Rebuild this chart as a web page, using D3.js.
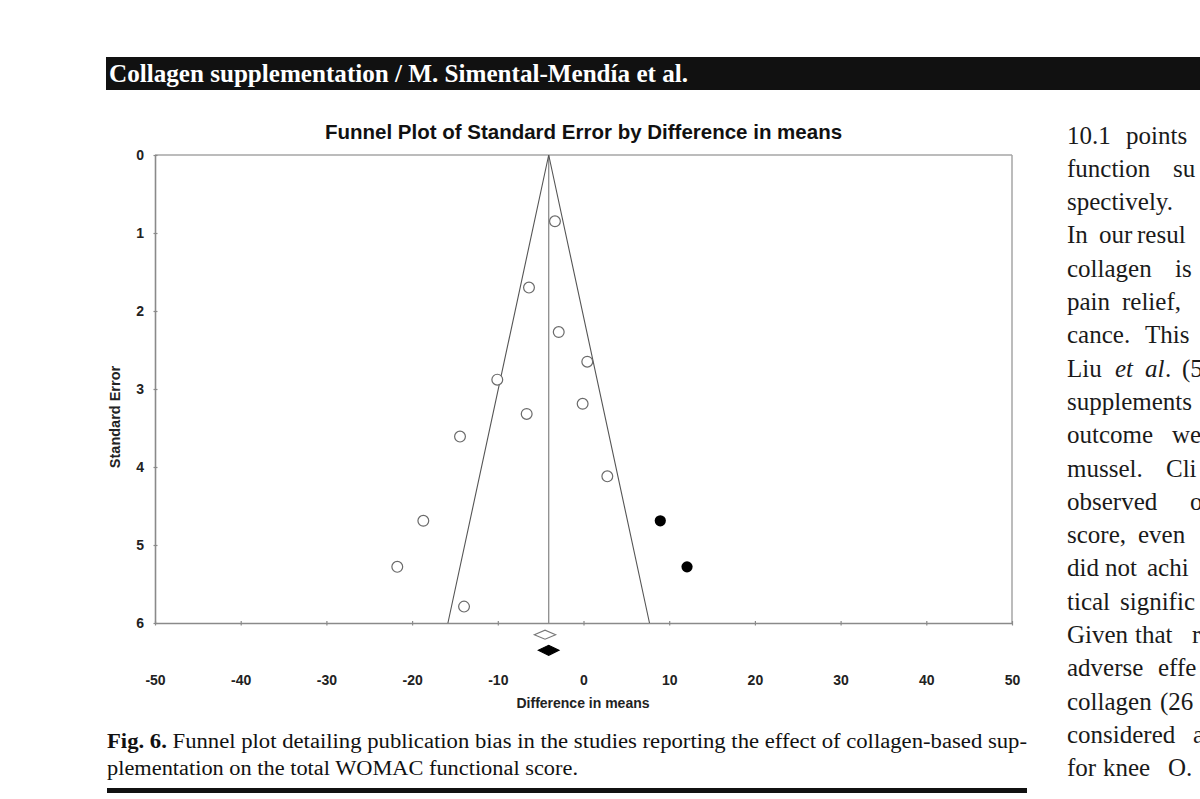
<!DOCTYPE html>
<html><head><meta charset="utf-8">
<script src="https://cdn.jsdelivr.net/npm/d3@7"></script>
<style>body{margin:0;background:#fff;overflow:hidden}svg{display:block}</style>
</head><body><svg id="c" width="1200" height="799"></svg>
<script>
// ---- data ----
const xTicks = [-50, -40, -30, -20, -10, 0, 10, 20, 30, 40, 50];
const yTicks = [0, 1, 2, 3, 4, 5, 6];
const observedDiff = [-3.33, -6.36, -2.89, 0.44, -10.06, -0.10, -6.63, -14.41, 2.78, -18.69, -21.73, -13.94];
const observedSE   = [0.85, 1.70, 2.27, 2.65, 2.88, 3.19, 3.32, 3.61, 4.12, 4.69, 5.28, 5.79];
const imputedDiff  = [8.96, 12.08];
const imputedSE    = [4.69, 5.28];
const summaryType  = ["observed", "adjusted"];
const summaryLow   = [-5.74, -5.27];
const summaryMean  = [-4.49, -4.06];
const summaryHigh  = [-3.25, -2.86];
const summaryRow   = [6.15, 6.35];   // drawn just below the SE axis
const funnelCenter = -4.06;
const maxSE = 6;

// ---- layout ----
const svg = d3.select("#c");
const x = d3.scaleLinear().domain([-50, 50]).range([155, 1012]);
const y = d3.scaleLinear().domain([0, 6]).range([155, 623]);
const sans = "'Liberation Sans', Arial, sans-serif";
const serif = "'Liberation Serif', 'Times New Roman', serif";

// header bar
svg.append("rect").attr("x", 106).attr("y", 57).attr("width", 1100).attr("height", 33).attr("fill", "#111");
svg.append("text").attr("x", 109).attr("y", 82).attr("fill", "#fff")
  .attr("font-family", serif).attr("font-weight", "bold").attr("font-size", 24.5)
  .attr("textLength", 579).attr("lengthAdjust", "spacingAndGlyphs")
  .text("Collagen supplementation / M. Simental-Mendía et al.");

// chart title
svg.append("text").attr("x", 583.5).attr("y", 139).attr("text-anchor", "middle")
  .attr("font-family", sans).attr("font-weight", "bold").attr("font-size", 20.5).attr("fill", "#111")
  .text("Funnel Plot of Standard Error by Difference in means");

const g = svg.append("g");

// frame
g.append("line").attr("x1", x(-50)).attr("x2", x(50)).attr("y1", y(0)).attr("y2", y(0)).attr("stroke", "#a6a6a6").attr("stroke-width", 1.5);
g.append("line").attr("x1", x(50)).attr("x2", x(50)).attr("y1", y(0)).attr("y2", y(6)).attr("stroke", "#a6a6a6").attr("stroke-width", 1.5);

// axes
const fmt = d => String(d);
const yAxis = d3.axisLeft(y).tickValues(yTicks).tickSize(0).tickPadding(11).tickFormat(fmt);
const ya = g.append("g").attr("transform", `translate(${x(-50)},0)`).call(yAxis);
const xAxis = d3.axisBottom(x).tickValues(xTicks).tickSize(0).tickPadding(52).tickFormat(fmt);
const xa = g.append("g").attr("transform", `translate(0,${y(6)})`).call(xAxis);
[ya, xa].forEach(a => {
  a.attr("font-size", null).attr("font-family", null);
  a.select(".domain").attr("stroke", "#8a8a8a").attr("stroke-width", 1.6);
  a.selectAll(".tick text").attr("font-family", sans).attr("font-weight", "bold").attr("font-size", 14).attr("fill", "#222");
});
ya.selectAll(".tick line").attr("x1", -1.5).attr("x2", 2.5).attr("stroke", "#8a8a8a").attr("stroke-width", 1.2);
xa.selectAll(".tick line").attr("y1", -2).attr("y2", 2.5).attr("stroke", "#8a8a8a").attr("stroke-width", 1.2);

// axis titles
g.append("text").attr("transform", `translate(120,417) rotate(-90)`).attr("text-anchor", "middle")
  .attr("font-family", sans).attr("font-weight", "bold").attr("font-size", 14.5).attr("fill", "#222")
  .text("Standard Error");
g.append("text").attr("x", 583).attr("y", 708).attr("text-anchor", "middle")
  .attr("font-family", sans).attr("font-weight", "bold").attr("font-size", 14).attr("fill", "#222")
  .text("Difference in means");

// funnel
g.append("line").attr("x1", x(funnelCenter)).attr("x2", x(funnelCenter)).attr("y1", y(0)).attr("y2", y(maxSE))
  .attr("stroke", "#8c8c8c").attr("stroke-width", 1.3);
const funnel = [[funnelCenter - 1.96 * maxSE, maxSE], [funnelCenter, 0], [funnelCenter + 1.96 * maxSE, maxSE]];
g.append("path").attr("d", d3.line().x(d => x(d[0])).y(d => y(d[1]))(funnel))
  .attr("fill", "none").attr("stroke", "#555").attr("stroke-width", 1.1);

// studies
g.selectAll("circle.obs").data(observedDiff).join("circle").attr("class", "obs")
  .attr("cx", d => x(d)).attr("cy", (d, i) => y(observedSE[i])).attr("r", 5.4)
  .attr("fill", "#fff").attr("stroke", "#6a6a6a").attr("stroke-width", 1.2);
g.selectAll("circle.imp").data(imputedDiff).join("circle").attr("class", "imp")
  .attr("cx", d => x(d)).attr("cy", (d, i) => y(imputedSE[i])).attr("r", 5.6)
  .attr("fill", "#000");

// summary diamonds
summaryType.forEach((t, i) => {
  const cy = y(summaryRow[i]), h = i === 0 ? 4.5 : 5;
  const pts = [[x(summaryLow[i]), cy], [x(summaryMean[i]), cy - h], [x(summaryHigh[i]), cy], [x(summaryMean[i]), cy + h]];
  g.append("path").attr("d", "M" + pts.join("L") + "Z")
    .attr("fill", t === "observed" ? "#fff" : "#000")
    .attr("stroke", t === "observed" ? "#777" : "#000").attr("stroke-width", 1.1);
});

// caption
const cap1 = svg.append("text").attr("x", 107).attr("y", 748).attr("font-family", serif).attr("font-size", 20.5).attr("fill", "#111")
  .attr("textLength", 920).attr("lengthAdjust", "spacingAndGlyphs");
cap1.append("tspan").attr("font-weight", "bold").text("Fig. 6. ");
cap1.append("tspan").text("Funnel plot detailing publication bias in the studies reporting the effect of collagen-based sup-");
svg.append("text").attr("x", 107).attr("y", 775).attr("font-family", serif).attr("font-size", 20.5).attr("fill", "#111")
  .attr("textLength", 471).attr("lengthAdjust", "spacingAndGlyphs")
  .text("plementation on the total WOMAC functional score.");
svg.append("rect").attr("x", 107).attr("y", 788).attr("width", 920).attr("height", 5).attr("fill", "#111");

// right column body text (cut off by page edge, as in the source page)
const colLines = [
  [["10.1", 1067], ["points", 1126]],
  [["function", 1067], ["su", 1173]],
  [["spectively.", 1067]],
  [["In", 1067], ["our", 1099], ["resul", 1137]],
  [["collagen", 1067], ["is", 1175]],
  [["pain", 1067], ["relief,", 1122]],
  [["cance.", 1067], ["This", 1145]],
  [["Liu", 1067], ["et", 1115, "i"], ["al", 1145, "i"], [".", 1165], ["(5", 1182]],
  [["supplements", 1067]],
  [["outcome", 1067], ["we", 1172]],
  [["mussel.", 1067], ["Cli", 1166]],
  [["observed", 1067], ["o", 1190]],
  [["score,", 1067], ["even", 1138]],
  [["did", 1067], ["not", 1105], ["achi", 1147]],
  [["tical", 1067], ["signific", 1120]],
  [["Given", 1067], ["that", 1135], ["r", 1192]],
  [["adverse", 1067], ["effe", 1158]],
  [["collagen", 1067], ["(26", 1160]],
  [["considered", 1067], ["a", 1193]],
  [["for", 1067], ["knee", 1103], ["O.", 1168]]
];
colLines.forEach((ln, i) => {
  const t = svg.append("text").attr("y", 143.5 + i * 33.3).attr("font-family", serif).attr("font-size", 25).attr("fill", "#1a1a1a");
  ln.forEach(w => t.append("tspan").attr("x", w[1]).attr("font-style", w[2] ? "italic" : null).text(w[0]));
});
</script>
</body></html>
